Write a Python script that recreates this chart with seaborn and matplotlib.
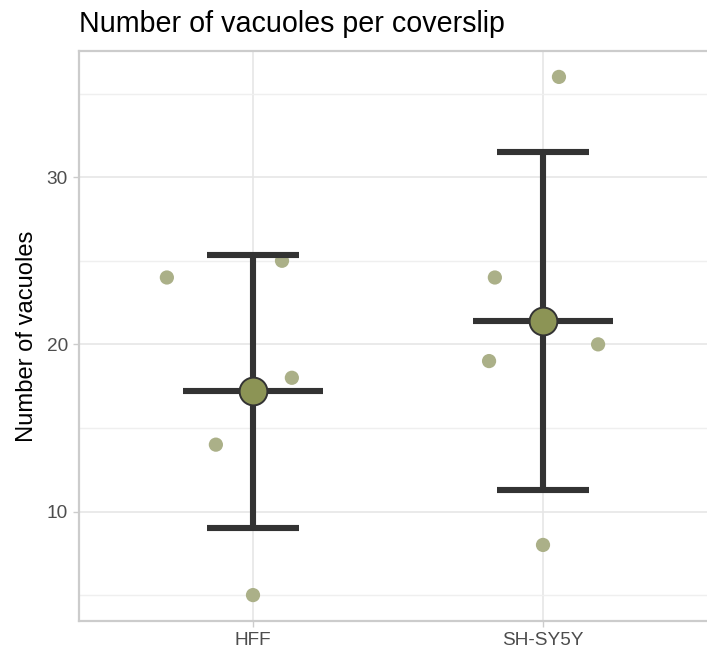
import matplotlib
matplotlib.use("Agg")
import matplotlib.pyplot as plt
import seaborn as sns
import pandas as pd
import numpy as np
from matplotlib.ticker import FixedLocator

# ---- data ----
cell_lines = ["HFF", "SH-SY5Y"]
hff_values = [24, 25, 18, 14, 5]
shsy5y_values = [36, 24, 19, 20, 8]
# horizontal jitter of each replicate (category units)
hff_jitter = [-0.297, 0.10, 0.134, -0.128, 0.0]
shsy5y_jitter = [0.055, -0.166, -0.186, 0.19, 0.0]
y_ticks = [10, 20, 30]
y_minor_ticks = [5, 15, 25, 35]
title = "Number of vacuoles per coverslip"
y_label = "Number of vacuoles"

df = pd.DataFrame({
    "cell_line": ["HFF"] * len(hff_values) + ["SH-SY5Y"] * len(shsy5y_values),
    "vacuoles": hff_values + shsy5y_values,
    "jitter": hff_jitter + shsy5y_jitter,
})
df["xpos"] = df["cell_line"].map({c: i for i, c in enumerate(cell_lines)}) + df["jitter"]

sns.set_style("white")
plt.rcParams["font.family"] = ["Liberation Sans", "DejaVu Sans"]

W, H = 707, 651
fig = plt.figure(figsize=(W / 100, H / 100), dpi=100)
ax_left, ax_right, ax_top, ax_bottom = 79, 717, 51, 621
ax = fig.add_axes([ax_left / W, (H - ax_bottom) / H,
                   (ax_right - ax_left) / W, (ax_bottom - ax_top) / H])

# mean +/- sd with caps
sns.pointplot(data=df, x="cell_line", y="vacuoles", order=cell_lines,
              errorbar="sd", capsize=0.32, linestyle="none", marker="o",
              color="#333333", markersize=20, markerfacecolor="#8C9455",
              markeredgecolor="#333333", markeredgewidth=1.4, zorder=6,
              err_kws={"linewidth": 4.4, "zorder": 4, "solid_capstyle": "butt"},
              ax=ax)

# crossbar at the mean
means = df.groupby("cell_line")["vacuoles"].mean().reindex(cell_lines)
for i, m in enumerate(means):
    ax.hlines(m, i - 0.24, i + 0.24, color="#333333", linewidth=4.4, zorder=4)

# individual replicates
sns.scatterplot(data=df, x="xpos", y="vacuoles", color="#ABB088", s=105,
                edgecolor="none", linewidth=0, zorder=3, ax=ax, legend=False)

ax.set_xlim(-0.6, 1.6)
ax.set_ylim(3.45, 37.55)
ax.set_xticks(range(len(cell_lines)))
ax.set_xticklabels(cell_lines)
ax.yaxis.set_major_locator(FixedLocator(y_ticks))
ax.yaxis.set_minor_locator(FixedLocator(y_minor_ticks))

ax.grid(True, which="major", color="#E6E6E6", linewidth=1.2, zorder=0)
ax.grid(True, which="minor", axis="y", color="#EFEFEF", linewidth=1.0, zorder=0)
ax.set_axisbelow(True)

for s in ax.spines.values():
    s.set_visible(True)
    s.set_color("#CCCCCC")
    s.set_linewidth(1.6)

ax.tick_params(axis="both", which="major", length=4.5, width=1.0, color="#CCCCCC",
               labelsize=13.7, labelcolor="#4D4D4D", pad=3.5, left=True, bottom=True)
ax.tick_params(axis="y", which="minor", length=0)

ax.set_xlabel("")
ax.set_ylabel(y_label, fontsize=17.1, color="black", labelpad=6.5)
ax.set_title(title, loc="left", fontsize=20.6, color="black", pad=14)

fig.savefig("out.png", dpi=100)
